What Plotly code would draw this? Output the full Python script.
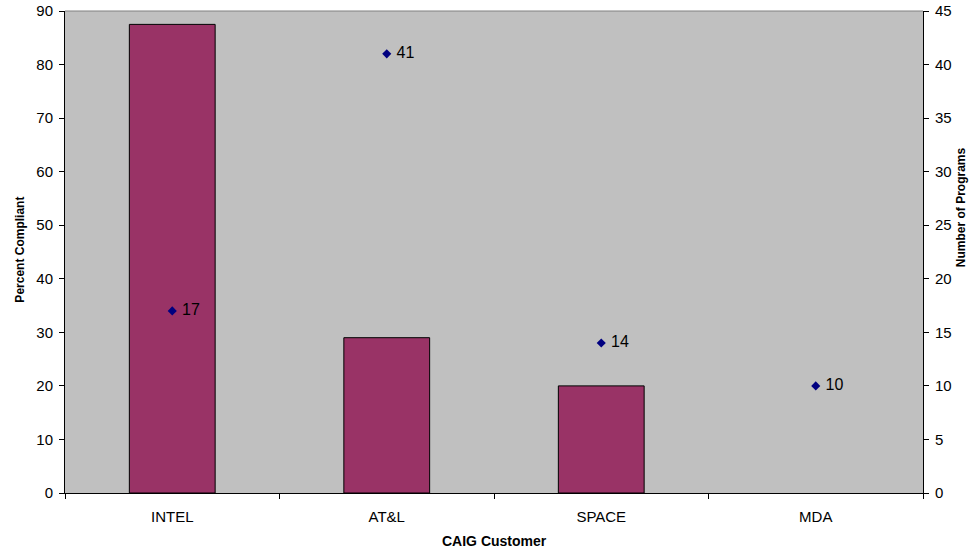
import plotly.graph_objects as go

categories = ["INTEL", "AT&L", "SPACE", "MDA"]
percent_compliant = [87.5, 29, 20, None]
num_programs = [17, 41, 14, 10]
num_labels = ["17", "41", "14", "10"]

FONT = "Arial, Liberation Sans, sans-serif"

fig = go.Figure()
fig.add_trace(go.Bar(
    x=categories, y=percent_compliant, width=0.4,
    marker=dict(color="#993366", line=dict(color="black", width=1)),
    yaxis="y", showlegend=False,
))
fig.add_trace(go.Scatter(
    x=categories, y=num_programs, mode="markers+text",
    text=[" " + t for t in num_labels], textposition="middle right",
    textfont=dict(family=FONT, size=16, color="black"),
    marker=dict(symbol="diamond", size=7, color="#000080"),
    yaxis="y2", showlegend=False, cliponaxis=False,
))

fig.update_layout(
    width=973, height=555,
    margin=dict(l=64.5, r=50, t=11, b=62, autoexpand=False),
    paper_bgcolor="white", plot_bgcolor="#C0C0C0",
    font=dict(family=FONT, size=14, color="black"),
    bargap=0.6,
    xaxis=dict(
        type="category", tickson="boundaries", ticks="outside", ticklen=5,
        tickcolor="black", showline=True, linecolor="black", linewidth=1,
        showgrid=False, tickfont=dict(size=15), ticklabelstandoff=10,
        automargin=False,
    ),
    yaxis=dict(
        range=[0, 90], dtick=10, ticks="outside", ticklen=5, tickcolor="black",
        showline=True, linecolor="black", linewidth=1, showgrid=False,
        zeroline=False, tickfont=dict(size=15), ticklabelstandoff=3,
        automargin=False,
    ),
    yaxis2=dict(
        range=[0, 45], dtick=5, overlaying="y", side="right", ticks="outside",
        ticklen=5, tickcolor="black", showline=True, linecolor="black",
        linewidth=1, showgrid=False, zeroline=False, tickfont=dict(size=15),
        ticklabelstandoff=3, automargin=False,
    ),
    shapes=[dict(type="line", xref="paper", yref="paper", x0=0, x1=1, y0=1, y1=1,
                 line=dict(color="#808080", width=1))],
    annotations=[
        dict(text="<b>Percent Compliant</b>", xref="paper", yref="paper",
             x=-0.0518, y=0.504, textangle=-90, showarrow=False,
             font=dict(size=12), xanchor="center", yanchor="middle"),
        dict(text="<b>Number of Programs</b>", xref="paper", yref="paper",
             x=1.0443, y=0.593, textangle=-90, showarrow=False,
             font=dict(size=12), xanchor="center", yanchor="middle"),
        dict(text="<b>CAIG Customer</b>", xref="paper", yref="paper",
             x=0.5, y=-0.0996, showarrow=False, font=dict(size=14),
             xanchor="center", yanchor="middle"),
    ],
)

fig.write_html("out.html", config={"displayModeBar": False},
               post_script="document.body.style.margin='0';document.body.style.overflow='hidden';")
